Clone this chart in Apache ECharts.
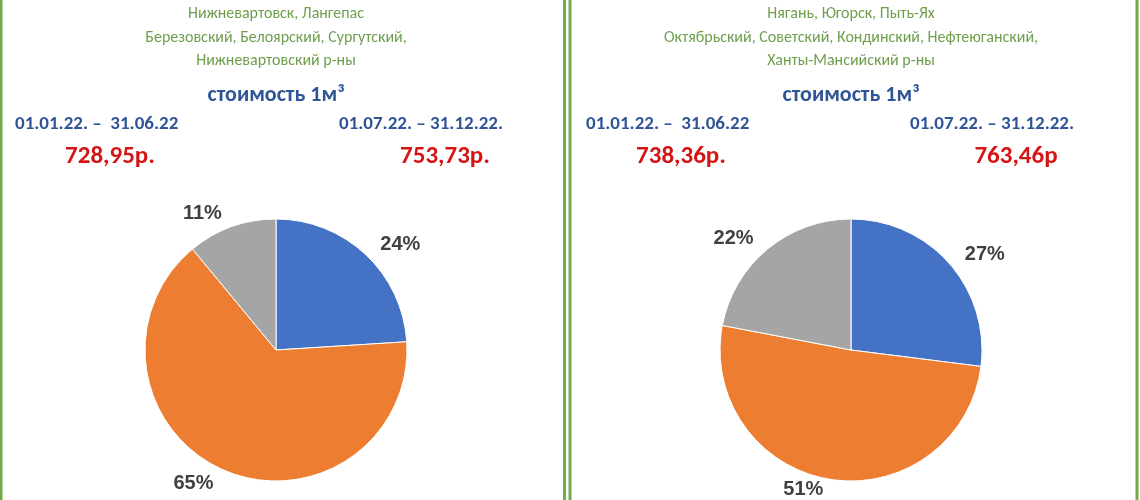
<!DOCTYPE html>
<html><head><meta charset="utf-8">
<script src="https://cdn.jsdelivr.net/npm/echarts@6/dist/echarts.min.js"></script>
<style>html,body{margin:0;background:#fff}#c{width:1140px;height:500px}</style>
</head><body><div id="c"></div>
<script>
// доли по районам, первый сектор от 12 часов по часовой
const leftValues = [24, 65, 11];
const rightValues = [27, 51, 22];
const sliceColors = ['#4472c4', '#ed7d31', '#a5a5a5'];
const leftLines = ['Нижневартовск, Лангепас', 'Березовский, Белоярский, Сургутский,', 'Нижневартовский р-ны'];
const rightLines = ['Нягань, Югорск, Пыть-Ях', 'Октябрьский, Советский, Кондинский, Нефтеюганский,', 'Ханты-Мансийский р-ны'];
const periods = ['01.01.22. –  31.06.22', '01.07.22. – 31.12.22.'];
const leftPrices = ['728,95р.', '753,73р.'];
const rightPrices = ['738,36р.', '763,46р'];

const chart = echarts.init(document.getElementById('c'));
const font = 'Calibri, Carlito, "Open Sans", sans-serif';

function panelText(cx, x0, lines, prices) {
  const g = [];
  lines.forEach((t, i) => g.push({type: 'text', left: cx - 300, top: 6 + i * 23.5,
    style: {text: t, x: 300, align: 'center', fill: '#6f9f4e', font: '16px ' + font}}));
  g.push({type: 'text', x: cx, y: 84, style: {text: 'стоимость 1м³', align: 'center', fill: '#2f5597', font: 'bold 22px ' + font}});
  g.push({type: 'text', x: x0, y: 115, style: {text: periods[0], fill: '#2f5597', font: 'bold 19px ' + font}});
  g.push({type: 'text', x: x0 + 324, y: 115, style: {text: periods[1], fill: '#2f5597', font: 'bold 19px ' + font}});
  g.push({type: 'text', x: x0 + 95, y: 144, style: {text: prices[0], align: 'center', fill: '#d51515', font: 'bold 25px ' + font}});
  g.push({type: 'text', x: x0 + 430, y: 144, style: {text: prices[1], align: 'center', fill: '#d51515', font: 'bold 25px ' + font}});
  return g;
}
// правка: графические тексты задаём x/y без left/top
function fix(g) { g.forEach(o => { if (o.left !== undefined) { o.x = o.left + 300; delete o.left; delete o.top; o.y = 6 + 0; } }); return g; }

const gText = [];
[[276, 15, leftLines, leftPrices], [851, 586, rightLines, rightPrices]].forEach(p => {
  const [cx, x0, lines, prices] = p;
  lines.forEach((t, i) => gText.push({type: 'text', x: cx, y: 6 + i * 23.5,
    style: {text: t, align: 'center', fill: '#6f9f4e', font: '16px ' + font}}));
  gText.push({type: 'text', x: cx, y: 84, style: {text: 'стоимость 1м³', align: 'center', fill: '#2f5597', font: 'bold 22px ' + font}});
  gText.push({type: 'text', x: x0, y: 115, style: {text: periods[0], fill: '#2f5597', font: 'bold 19px ' + font}});
  gText.push({type: 'text', x: x0 + 324, y: 115, style: {text: periods[1], fill: '#2f5597', font: 'bold 19px ' + font}});
  gText.push({type: 'text', x: x0 + 95, y: 144, style: {text: prices[0], align: 'center', fill: '#d51515', font: 'bold 25px ' + font}});
  gText.push({type: 'text', x: x0 + 430, y: 144, style: {text: prices[1], align: 'center', fill: '#d51515', font: 'bold 25px ' + font}});
});
// рамки
gText.push({type: 'rect', shape: {x: 1, y: -5, width: 1136, height: 520}, style: {fill: null, stroke: '#70ad47', lineWidth: 3}});
gText.push({type: 'line', shape: {x1: 564.5, y1: 0, x2: 564.5, y2: 500}, style: {stroke: '#70ad47', lineWidth: 3}});
gText.push({type: 'line', shape: {x1: 570, y1: 0, x2: 570, y2: 500}, style: {stroke: '#70ad47', lineWidth: 3}});

function pie(center, values) {
  return {
    type: 'pie', center: center, radius: 131, startAngle: 90, clockwise: true,
    data: values.map((v, i) => ({value: v, itemStyle: {color: sliceColors[i]}})),
    itemStyle: {borderColor: '#fff', borderWidth: 1},
    label: {show: true, position: 'outside', formatter: '{c}%', color: '#404040',
      fontFamily: 'Liberation Sans, Arial', fontWeight: 'bold', fontSize: 20},
    labelLine: {show: false, length: 14, length2: 0},
    emphasis: {disabled: true}, animation: false
  };
}

chart.setOption({
  animation: false,
  graphic: gText,
  series: [pie([276, 350], leftValues), pie([851, 350], rightValues)]
});
</script></body></html>
